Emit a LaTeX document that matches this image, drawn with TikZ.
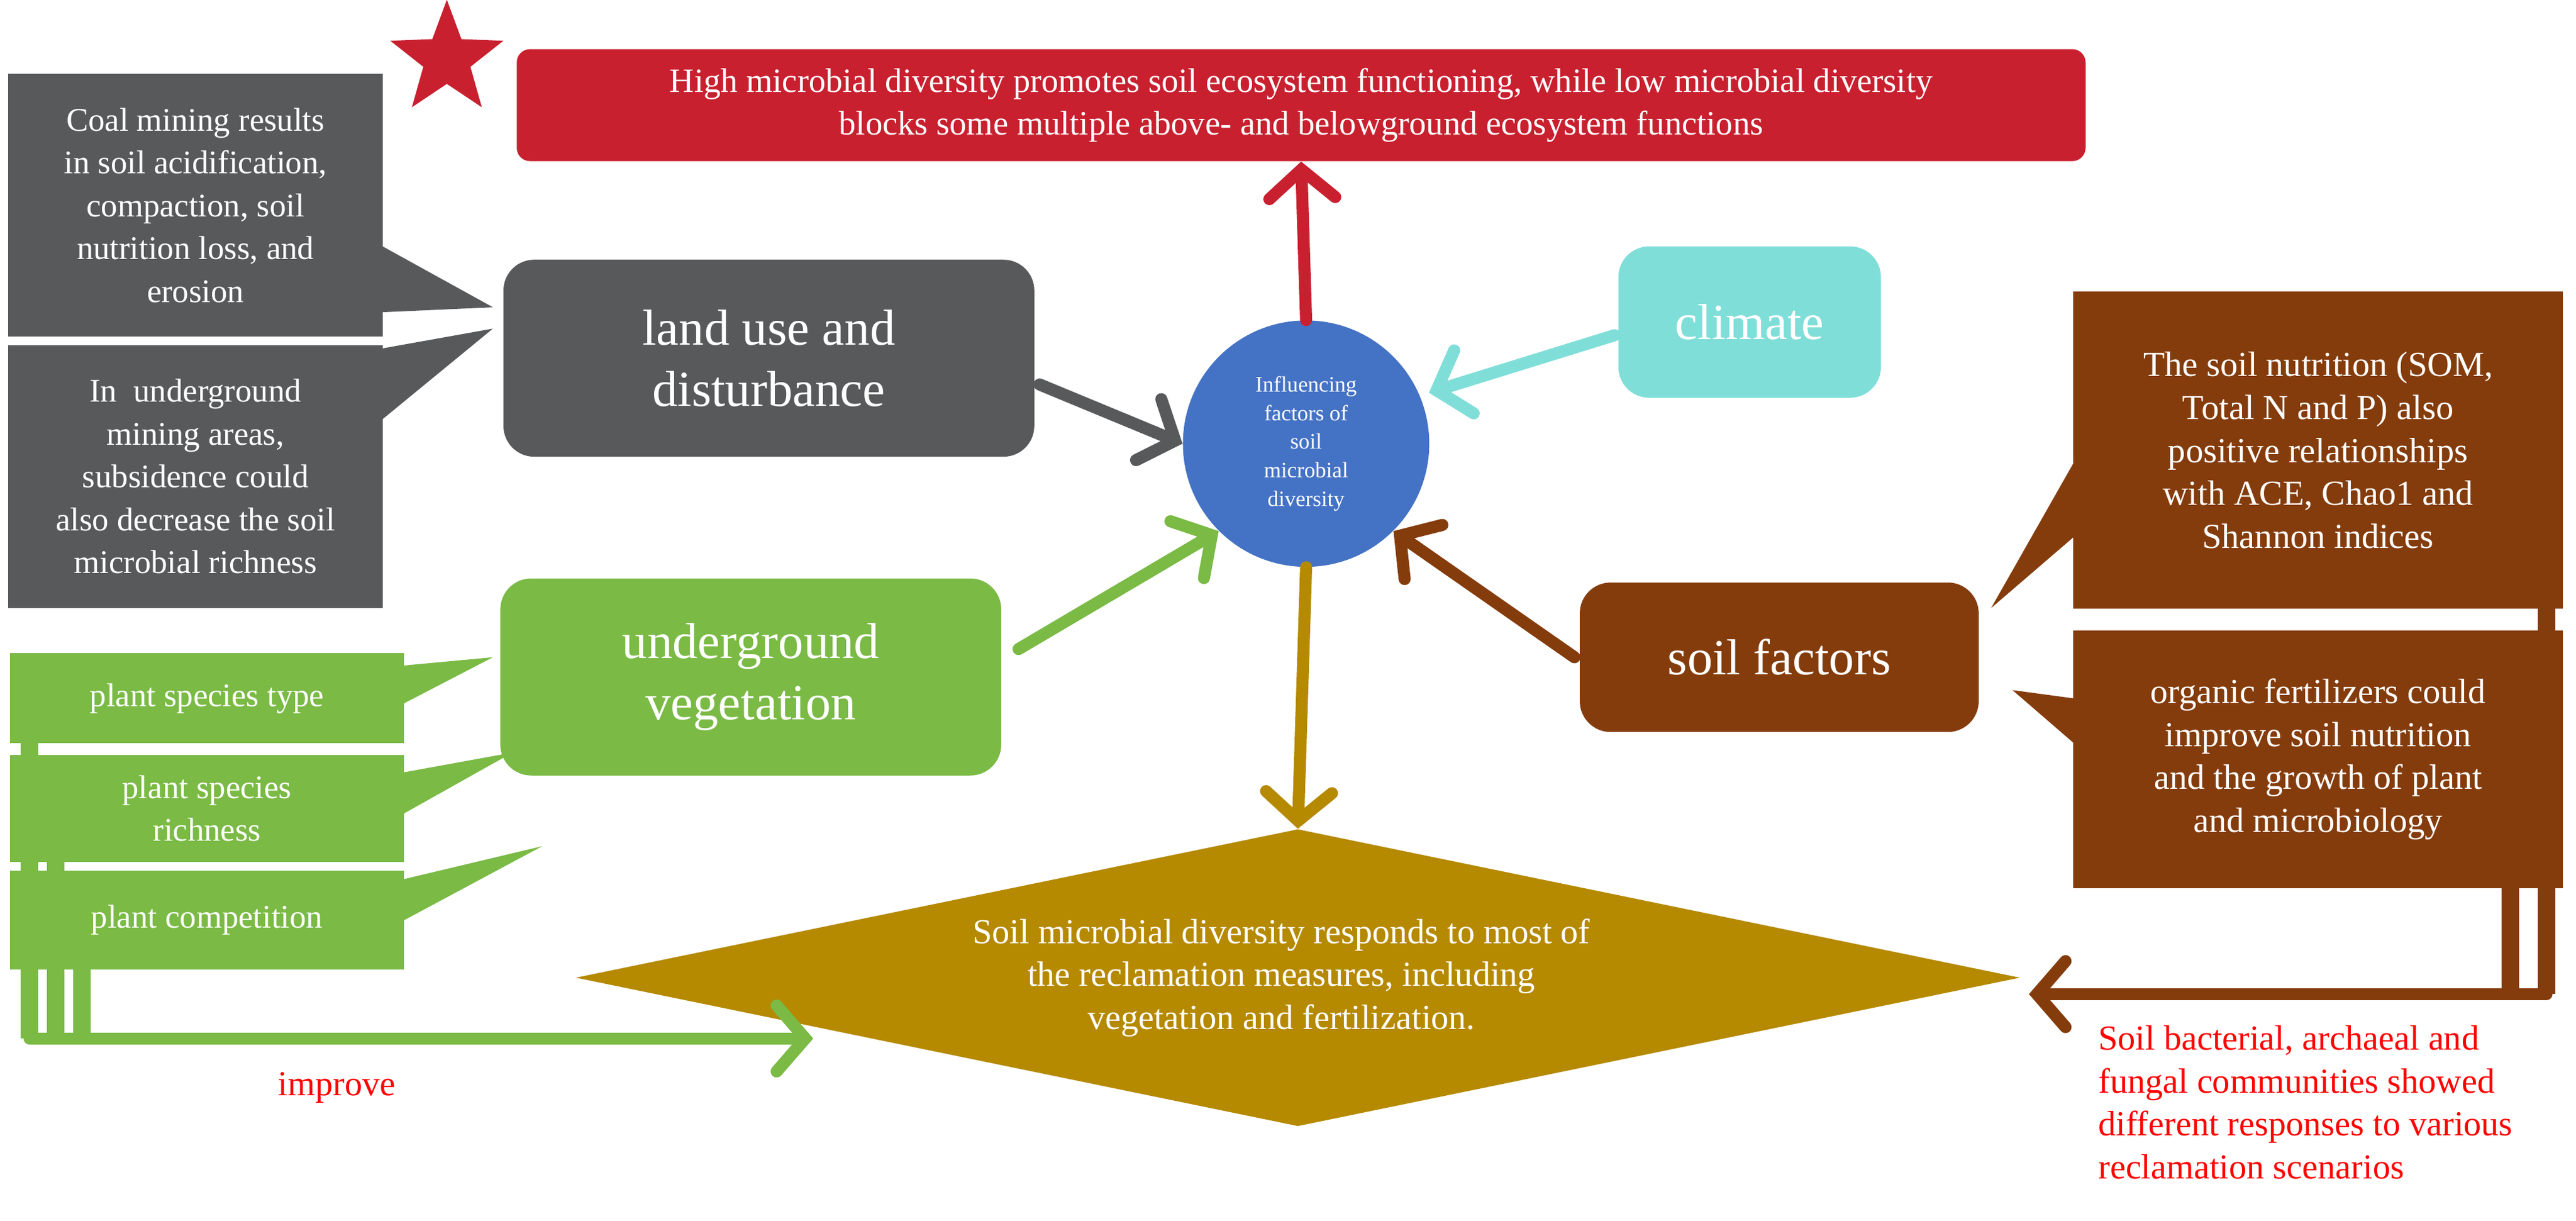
\documentclass[tikz,border=0pt]{standalone}
\usepackage{fontspec}
\setmainfont{Liberation Serif}[Ligatures=TeX]
\usetikzlibrary{arrows.meta,shapes.geometric}
\definecolor{hired}{HTML}{C8202F}
\definecolor{landgray}{HTML}{58595B}
\definecolor{vegreen}{HTML}{7ABA45}
\definecolor{soilbrown}{HTML}{843C0C}
\definecolor{climcyan}{HTML}{80DED9}
\definecolor{coreblue}{HTML}{4472C4}
\definecolor{respgold}{HTML}{B58900}
\tikzset{
   every node/.style={font=\rmfamily},
   factor node/.style={rectangle,rounded corners=14pt,text=white,align=center,inner sep=2pt,font=\rmfamily\fontsize{23}{28}\selectfont},
   note node/.style={rectangle,text=white,align=center,inner sep=2pt,font=\rmfamily\fontsize{15}{19.5}\selectfont},
   flow/.style={line width=5.5pt,line cap=round,-{Straight Barb[length=13pt,width=30pt,line cap=round]}}
}
\begin{document}
\begin{tikzpicture}[x=0.02627cm,y=-0.02627cm]
\useasboundingbox (0,0) rectangle (1568,743);

% top
\node[star,star points=5,star point ratio=2.4,fill=hired,minimum size=1.9cm,inner sep=0pt] (star) at (272,36) {};
\node[rectangle,rounded corners=6pt,fill=hired,text=white,align=center,minimum width=25.09cm,minimum height=1.79cm,font=\rmfamily\fontsize{15.5}{19.5}\selectfont] (top) at (792,64)
  {High microbial diversity promotes soil ecosystem functioning, while low microbial diversity\\ blocks some multiple above- and belowground ecosystem functions};

% centre
\node[circle,fill=coreblue,text=white,align=center,minimum size=3.94cm,inner sep=0pt,font=\rmfamily\fontsize{10}{13}\selectfont] (core) at (795,270)
  {Influencing\\ factors of\\ soil\\ microbial\\ diversity};
\node[diamond,fill=respgold,aspect=4.9,minimum width=23.1cm,minimum height=4.75cm,inner sep=0pt] (resp) at (790,595) {};
\node[text=white,align=center,font=\rmfamily\fontsize{16}{19.5}\selectfont] (resptext) at (780,595)
  {Soil microbial diversity responds to most of\\ the reclamation measures, including\\ vegetation and fertilization.};

% factors
\node[factor node,fill=landgray,minimum width=8.49cm,minimum height=3.15cm] (land) at (468,218) {land use and\\ disturbance};
\node[factor node,fill=climcyan,minimum width=4.2cm,minimum height=2.42cm] (clim) at (1065,196) {climate};
\node[factor node,fill=vegreen,minimum width=8.01cm,minimum height=3.15cm] (veg) at (457,412) {underground\\ vegetation};
\node[factor node,fill=soilbrown,minimum width=6.38cm,minimum height=2.39cm] (soil) at (1083,400) {soil factors};

% land use notes
\node[note node,fill=landgray,minimum width=5.99cm,minimum height=4.2cm] (coal) at (119,125)
  {Coal mining results\\ in soil acidification,\\ compaction, soil\\ nutrition loss, and\\ erosion};
\node[note node,fill=landgray,minimum width=5.99cm,minimum height=4.2cm] (subs) at (119,290)
  {In~ underground\\ mining areas,\\ subsidence could\\ also decrease the soil\\ microbial richness};
\fill[landgray] (233,150) -- (300,187) -- (233,190) -- cycle;
\fill[landgray] (233,212) -- (300,200) -- (233,255) -- cycle;

% vegetation notes
\node[note node,fill=vegreen,minimum width=6.3cm,minimum height=1.44cm] (type) at (126,425) {plant species type};
\node[note node,fill=vegreen,minimum width=6.3cm,minimum height=1.71cm] (rich) at (126,492) {plant species\\ richness};
\node[note node,fill=vegreen,minimum width=6.3cm,minimum height=1.58cm] (comp) at (126,560) {plant competition};
\fill[vegreen] (246,405) -- (300,400) -- (246,428) -- cycle;
\fill[vegreen] (246,470) -- (312,458) -- (246,495) -- cycle;
\fill[vegreen] (246,535) -- (330,515) -- (246,560) -- cycle;
\coordinate (vegend) at (495,632);
\draw[vegreen,line width=8pt] (18,452) -- (18,632);
\draw[vegreen,line width=8pt] (34,524) -- (34,632);
\draw[vegreen,line width=8pt] (50,589) -- (50,632);
\draw[flow,vegreen] (18,632) -- (vegend);
\node[text=red,font=\rmfamily\fontsize{16}{19}\selectfont] (improve) at (205,662) {improve};

% soil notes
\node[note node,fill=soilbrown,minimum width=7.83cm,minimum height=5.07cm,font=\rmfamily\fontsize{16}{19.5}\selectfont] (som) at (1411,274)
  {The soil nutrition (SOM,\\ Total N and P) also\\ positive relationships\\ with ACE, Chao1 and\\ Shannon indices};
\node[note node,fill=soilbrown,minimum width=7.83cm,minimum height=4.12cm,font=\rmfamily\fontsize{16}{19.5}\selectfont] (fert) at (1411,462)
  {organic fertilizers could\\ improve soil nutrition\\ and the growth of plant\\ and microbiology};
\fill[soilbrown] (1262,282) -- (1212,370) -- (1262,327) -- cycle;
\fill[soilbrown] (1262,425) -- (1225,420) -- (1262,452) -- cycle;
\coordinate (soilend) at (1235,605);
\draw[soilbrown,line width=8pt] (1550,370) -- (1550,605);
\draw[soilbrown,line width=8pt] (1528,540) -- (1528,605);
\draw[flow,soilbrown] (1550,605) -- (soilend);
\node[text=red,align=left,anchor=north west,inner sep=0pt,font=\rmfamily\fontsize{16}{19.5}\selectfont] (scen) at (1277,624)
  {Soil bacterial, archaeal and\\ fungal communities showed\\ different responses to various\\ reclamation scenarios};

% arrows
\draw[flow,hired] (core.north) -- (top.south);
\draw[flow,landgray] (land.east) ++(3,16) -- (core.west);
\draw[flow,climcyan] (clim.west) ++(-2,8) -- ++(-113,35);
\draw[flow,vegreen] (620,395) -- (core.south west);
\draw[flow,soilbrown] (soil.west) ++(-3,0) -- (core.south east);
\draw[flow,respgold] (core.south) -- (resp.north);
\end{tikzpicture}
\end{document}
